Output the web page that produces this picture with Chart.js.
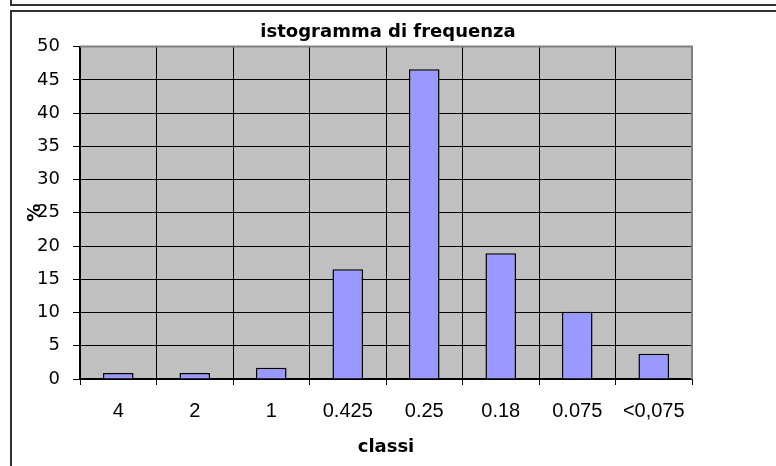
<!DOCTYPE html>
<html>
<head>
<meta charset="utf-8">
<script src="https://cdn.jsdelivr.net/npm/chart.js@4.4.0/dist/chart.umd.min.js"></script>
<style>
  html, body { margin: 0; padding: 0; background: #fff; }
  #wrap { width: 776px; height: 466px; position: relative; }
</style>
</head>
<body>
<div id="wrap"><canvas id="myChart" width="776" height="466"></canvas></div>
<script>
const classi = ['4', '2', '1', '0.425', '0.25', '0.18', '0.075', '<0,075'];
const percentuali = [0.9, 0.9, 1.7, 16.5, 46.6, 18.9, 10.1, 3.8];
const yMin = 0, yMax = 50, yStep = 5;

const arial = "'Liberation Sans', Arial, sans-serif";
const wide = "'DejaVu Sans', Verdana, sans-serif";

// gray plot area and the outer frames, Excel style
const frame = {
    id: 'frame',
    beforeDraw(chart) {
        const c = chart.ctx, a = chart.chartArea;
        c.save();
        c.fillStyle = '#fff';
        c.fillRect(0, 0, chart.width, chart.height);
        c.strokeStyle = '#333';
        c.lineWidth = 2;
        c.beginPath();
        c.moveTo(11, 0); c.lineTo(11, 5); c.lineTo(chart.width, 5);
        c.stroke();
        c.strokeRect(11, 11, chart.width + 10, chart.height + 10);
        c.fillStyle = '#c0c0c0';
        c.fillRect(a.left, a.top, a.right - a.left, a.bottom - a.top);
        c.restore();
    },
    afterDatasetsDraw(chart) {
        const c = chart.ctx, a = chart.chartArea;
        c.save();
        c.strokeStyle = '#808080';
        c.lineWidth = 2;
        c.beginPath();
        c.moveTo(a.left, a.top); c.lineTo(a.right, a.top); c.lineTo(a.right, a.bottom);
        c.stroke();
        c.restore();
    }
};

var ctx = document.getElementById('myChart').getContext('2d');
var myChart = new Chart(ctx, {
    type: 'bar',
    data: {
        labels: classi,
        datasets: [{
            label: '%',
            data: percentuali,
            backgroundColor: '#9999ff',
            borderColor: '#000',
            borderWidth: 1.5,
            barPercentage: 0.4,
            categoryPercentage: 1
        }]
    },
    plugins: [frame],
    options: {
        responsive: false,
        animation: false,
        layout: { padding: 0 },
        scales: {
            x: {
                grid: { color: '#000', lineWidth: 1, tickLength: 6, offset: true },
                border: { color: '#000', width: 1.5 },
                ticks: { color: '#000', font: { family: arial, size: 20 }, padding: 14, maxRotation: 0 },
                title: { display: true, text: 'classi', color: '#000', font: { family: wide, size: 18, weight: 'bold' }, padding: { top: 0, bottom: 8 } },
                afterFit(s) { s.height = 87; }
            },
            y: {
                min: yMin,
                max: yMax,
                grid: { color: '#000', lineWidth: 1, tickLength: 7 },
                border: { color: '#000', width: 1.5 },
                ticks: { stepSize: yStep, color: '#000', font: { family: wide, size: 18 }, padding: 13 },
                title: { display: true, text: '%', color: '#000', font: { family: wide, size: 18, weight: 'bold' }, padding: { top: 25, bottom: 0 } },
                afterFit(s) { s.width = 80; }
            },
            // empty right-hand axis, only to keep the white space right of the plot
            spacer: {
                position: 'right',
                grid: { display: false },
                border: { display: false },
                ticks: { display: false },
                afterFit(s) { s.width = 84; }
            }
        },
        plugins: {
            legend: { display: false },
            tooltip: { enabled: false },
            title: {
                display: true,
                text: 'istogramma di frequenza',
                color: '#000',
                font: { family: wide, size: 18, weight: 'bold' },
                padding: { top: 22, bottom: 3 }
            }
        }
    }
});
</script>
</body>
</html>
